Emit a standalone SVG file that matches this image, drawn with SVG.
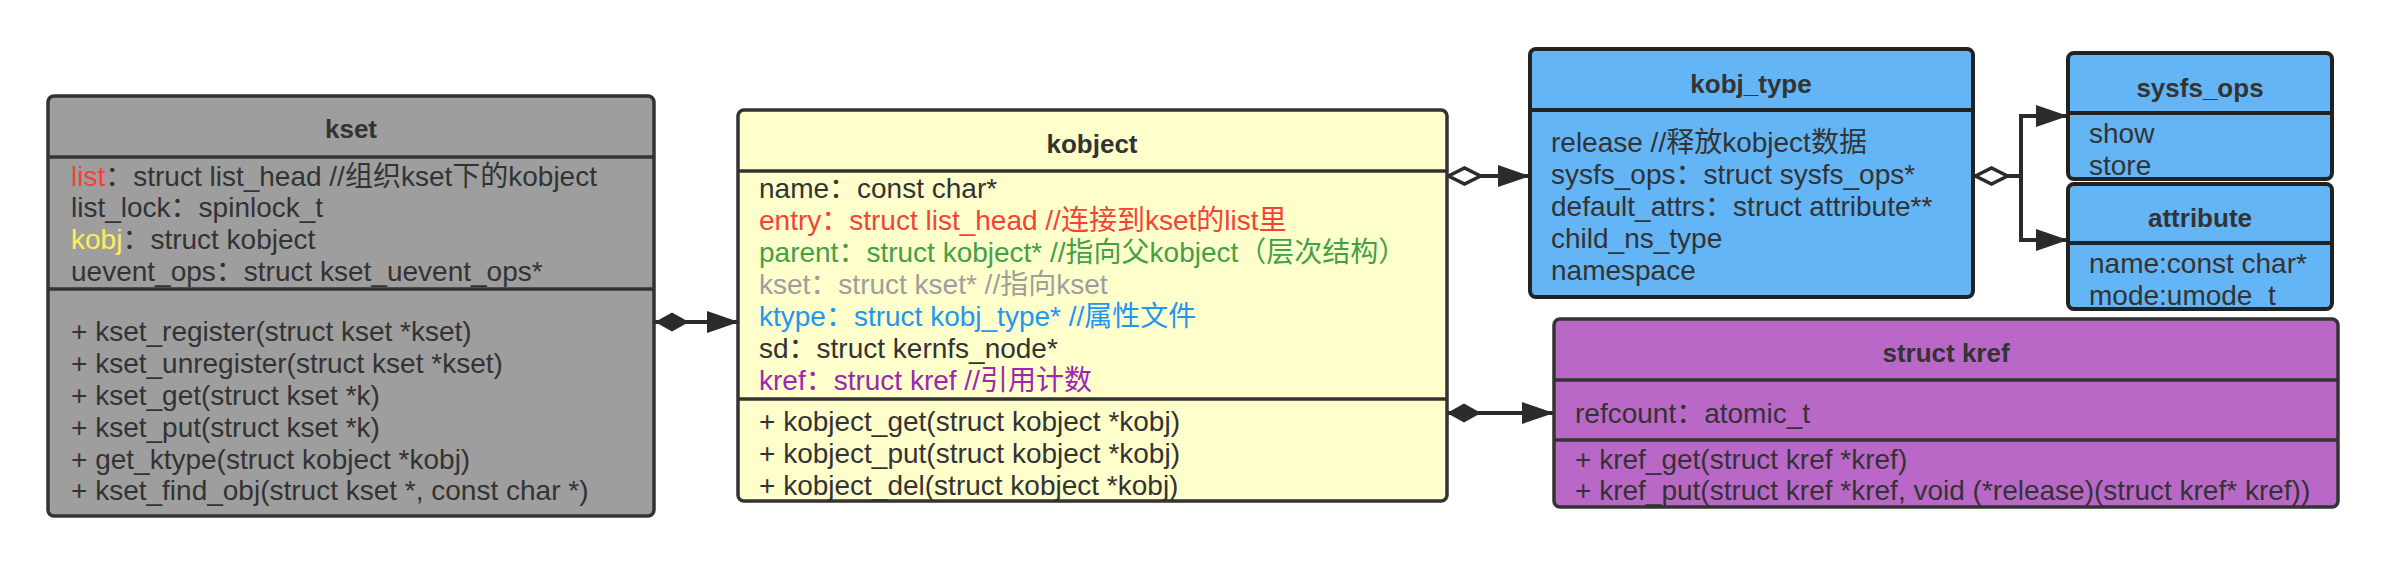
<svg xmlns="http://www.w3.org/2000/svg" width="2388" height="565" viewBox="0 0 2388 565">
<defs>
<style>
text{font-family:"Liberation Sans","Noto Sans CJK SC",sans-serif;font-size:28px;fill:#333}
.t{font-weight:bold;font-size:26px;text-anchor:middle}
.box{stroke:#333;stroke-width:3.5;fill:none}
.bbox{stroke:#222;stroke-width:4;fill:none}
.div{stroke:#333;stroke-width:3.5}
.bdiv{stroke:#222;stroke-width:4}
.con{stroke:#2b2b2b;stroke-width:4;fill:none}
.red{fill:#F44336}.yel{fill:#FFEE58}.grn{fill:#43A047}.gry{fill:#9E9E9E}.blu{fill:#2196F3}.pur{fill:#9C27B0}
</style>
<marker id="arrow" markerUnits="userSpaceOnUse" markerWidth="34" markerHeight="24" refX="32" refY="11" orient="auto" overflow="visible"><path d="M0,0 L32,11 L0,22 z" fill="#2b2b2b"/></marker>
<marker id="dfill" markerUnits="userSpaceOnUse" markerWidth="36" markerHeight="22" refX="0" refY="10" orient="auto" overflow="visible"><path d="M0,10 L17,0.5 L34,10 L17,19.5 z" fill="#2b2b2b"/></marker>
<marker id="dopen" markerUnits="userSpaceOnUse" markerWidth="38" markerHeight="24" refX="0" refY="10" orient="auto" overflow="visible"><path d="M1.5,10 L17.5,2 L33.5,10 L17.5,18 z" fill="#fff" stroke="#2b2b2b" stroke-width="3.5"/></marker>
</defs>
<rect width="2388" height="565" fill="#fff"/>

<g id="connectors">
<path class="con" d="M655,322 H739" marker-start="url(#dfill)" marker-end="url(#arrow)"/>
<path class="con" d="M1447,176 H1530" marker-start="url(#dopen)" marker-end="url(#arrow)"/>
<path class="con" d="M1974,176 H2021 V116 H2068" marker-start="url(#dopen)" marker-end="url(#arrow)"/>
<path class="con" d="M2021,176 V240 H2068" marker-end="url(#arrow)"/>
<path class="con" d="M1447,413 H1554" marker-start="url(#dfill)" marker-end="url(#arrow)"/>
</g>

<g id="kset">
<rect x="48" y="96" width="606" height="420" rx="6" fill="#9E9E9E"/>
<line class="div" x1="48" y1="157" x2="654" y2="157"/>
<line class="div" x1="48" y1="289" x2="654" y2="289"/>
<text class="t" x="351" y="138">kset</text>
<text x="71" y="186"><tspan class="red">list</tspan>：struct list_head //组织kset下的kobject</text>
<text x="71" y="217">list_lock：spinlock_t</text>
<text x="71" y="249"><tspan class="yel">kobj</tspan>：struct kobject</text>
<text x="71" y="281">uevent_ops：struct kset_uevent_ops*</text>
<text x="71" y="341">+ kset_register(struct kset *kset)</text>
<text x="71" y="373">+ kset_unregister(struct kset *kset)</text>
<text x="71" y="405">+ kset_get(struct kset *k)</text>
<text x="71" y="437">+ kset_put(struct kset *k)</text>
<text x="71" y="469">+ get_ktype(struct kobject *kobj)</text>
<text x="71" y="500">+ kset_find_obj(struct kset *, const char *)</text>
<rect class="box" x="48" y="96" width="606" height="420" rx="6"/>
</g>

<g id="kobject">
<rect x="738" y="110" width="709" height="391" rx="6" fill="#FFFFCC"/>
<line class="div" x1="738" y1="171" x2="1447" y2="171"/>
<line class="div" x1="738" y1="399" x2="1447" y2="399"/>
<text class="t" x="1092" y="153">kobject</text>
<text x="759" y="198">name：const char*</text>
<text x="759" y="230" class="red">entry：struct list_head //连接到kset的list里</text>
<text x="759" y="262" class="grn">parent：struct kobject* //指向父kobject（层次结构）</text>
<text x="759" y="294" class="gry">kset：struct kset* //指向kset</text>
<text x="759" y="326" class="blu">ktype：struct kobj_type* //属性文件</text>
<text x="759" y="358">sd：struct kernfs_node*</text>
<text x="759" y="390" class="pur">kref：struct kref //引用计数</text>
<text x="759" y="431">+ kobject_get(struct kobject *kobj)</text>
<text x="759" y="463">+ kobject_put(struct kobject *kobj)</text>
<text x="759" y="495">+ kobject_del(struct kobject *kobj)</text>
<rect class="box" x="738" y="110" width="709" height="391" rx="6"/>
</g>

<g id="kobj_type">
<rect x="1530" y="49" width="443" height="248" rx="6" fill="#64B5F6"/>
<line class="bdiv" x1="1530" y1="110" x2="1973" y2="110"/>
<text class="t" x="1751" y="93">kobj_type</text>
<text x="1551" y="152">release //释放kobject数据</text>
<text x="1551" y="184">sysfs_ops：struct sysfs_ops*</text>
<text x="1551" y="216">default_attrs：struct attribute**</text>
<text x="1551" y="248">child_ns_type</text>
<text x="1551" y="280">namespace</text>
<rect class="bbox" x="1530" y="49" width="443" height="248" rx="6"/>
</g>

<g id="sysfs_ops">
<rect x="2068" y="53" width="264" height="126" rx="6" fill="#64B5F6"/>
<line class="bdiv" x1="2068" y1="113" x2="2332" y2="113"/>
<text class="t" x="2200" y="97">sysfs_ops</text>
<text x="2089" y="143">show</text>
<text x="2089" y="175">store</text>
<rect class="bbox" x="2068" y="53" width="264" height="126" rx="6"/>
</g>

<g id="attribute">
<rect x="2068" y="184" width="264" height="125" rx="6" fill="#64B5F6"/>
<line class="bdiv" x1="2068" y1="243" x2="2332" y2="243"/>
<text class="t" x="2200" y="227">attribute</text>
<text x="2089" y="273">name:const char*</text>
<text x="2089" y="305">mode:umode_t</text>
<rect class="bbox" x="2068" y="184" width="264" height="125" rx="6"/>
</g>

<g id="kref">
<rect x="1554" y="319" width="784" height="188" rx="6" fill="#BA68C8"/>
<line class="div" x1="1554" y1="380" x2="2338" y2="380"/>
<line class="div" x1="1554" y1="440" x2="2338" y2="440"/>
<text class="t" x="1946" y="362">struct kref</text>
<text x="1575" y="423">refcount：atomic_t</text>
<text x="1575" y="469">+ kref_get(struct kref *kref)</text>
<text x="1575" y="500">+ kref_put(struct kref *kref, void (*release)(struct kref* kref))</text>
<rect class="box" x="1554" y="319" width="784" height="188" rx="6"/>
</g>
</svg>
